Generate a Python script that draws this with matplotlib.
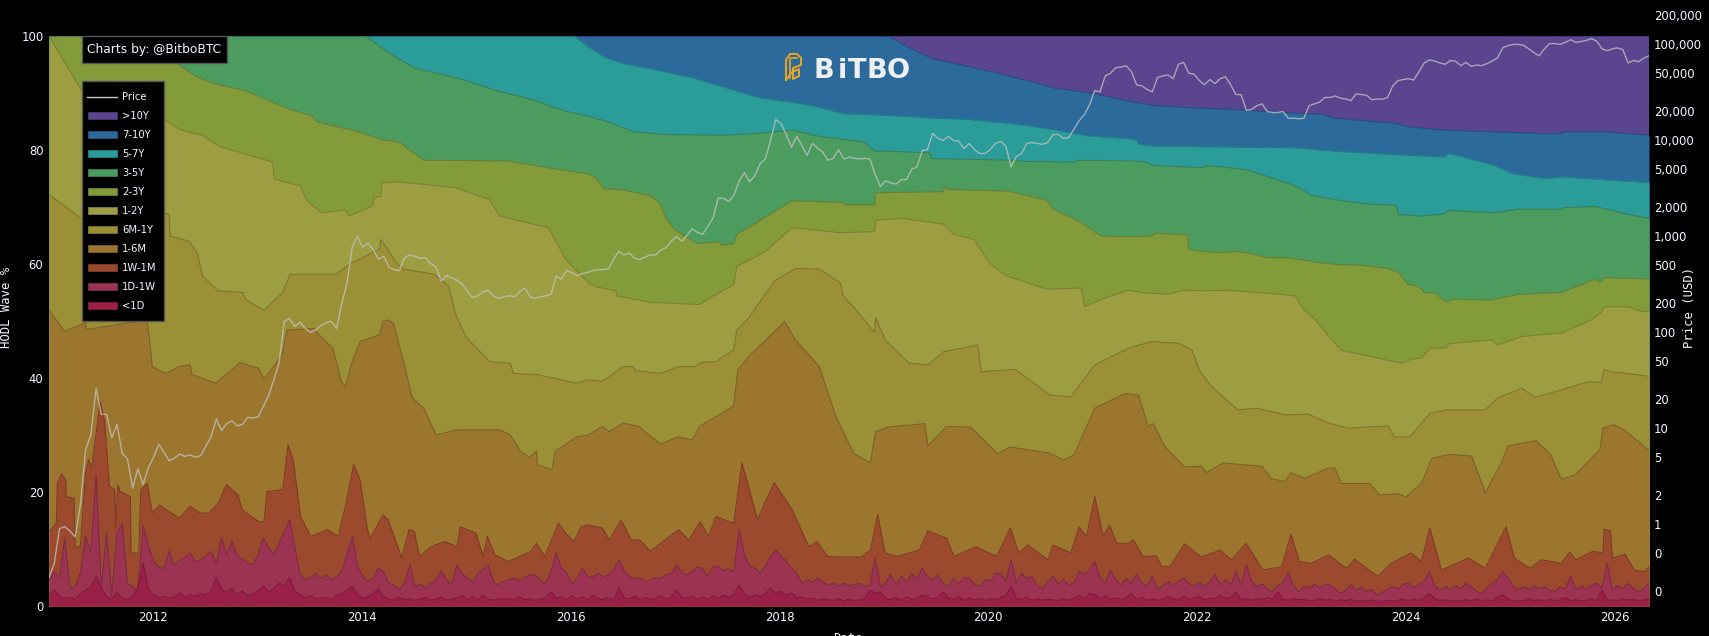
"""HODL waves chart: stacked age bands of the Bitcoin supply with price on a log axis."""

import matplotlib
matplotlib.use("Agg")
import matplotlib.pyplot as plt
import numpy as np
from matplotlib.lines import Line2D
from matplotlib.patches import Rectangle

START_YEAR, END_YEAR = 2011.0, 2026.33

# Upper edge of each cumulative band, in percent of supply, against decimal years
over_10y_years = [2011.0, 2026.33]
over_10y_top = [100, 100]

y7_10_years = [2011.0, 2019.04, 2019.30, 2019.47, 2019.80, 2020.13, 2020.46, 2020.62, 2020.95, 2021.12, 2021.34,
               2021.60, 2021.98, 2022.46, 2023.0, 2023.19, 2023.32, 2023.89, 2024.02, 2024.37, 2024.85, 2025.27,
               2025.49, 2025.51, 2025.91, 2026.33]
y7_10_top = [100, 100, 97.4, 96.0, 94.7, 93.3, 91.8, 90.9, 90.1, 89.5, 88.6,
             87.8, 87.4, 87.0, 86.4, 86.3, 85.6, 84.7, 84.1, 83.5, 83.2, 82.9,
             82.9, 83.2, 83.2, 82.6]

y5_7_years = [2011.0, 2016.03, 2016.17, 2016.33, 2016.50, 2016.83, 2017.16, 2017.49, 2017.82, 2018.15, 2018.31,
              2018.61, 2019.14, 2019.47, 2019.80, 2020.29, 2020.62, 2020.95, 2021.34, 2021.42, 2021.44, 2021.60,
              2021.98, 2022.94, 2023.32, 2023.89, 2024.37, 2024.41, 2024.53, 2024.85, 2025.01, 2025.33, 2025.51,
              2025.97, 2026.33]
y5_7_top = [100, 100, 98.1, 96.2, 95.2, 94.0, 92.7, 90.9, 89.1, 88.3, 87.8,
            86.4, 86.0, 85.6, 85.4, 84.5, 83.6, 82.5, 82.0, 81.8, 81.0, 80.7,
            80.6, 80.4, 79.8, 79.2, 78.8, 79.4, 78.9, 77.3, 75.9, 75.0, 75.3,
            74.7, 74.3]

y3_5_years = [2011.0, 2014.03, 2014.30, 2014.50, 2014.96, 2015.29, 2015.62, 2015.95, 2016.17, 2016.33, 2016.60,
              2016.93, 2017.49, 2017.85, 2018.12, 2018.35, 2018.81, 2018.91, 2019.04, 2019.44, 2019.45, 2020.29,
              2020.30, 2020.84, 2020.85, 2021.34, 2021.50, 2021.58, 2022.07, 2022.09, 2022.46, 2022.78, 2022.94,
              2023.10, 2023.32, 2023.64, 2023.91, 2023.93, 2024.15, 2024.37, 2024.41, 2024.85, 2025.08, 2025.49,
              2025.52, 2025.81, 2026.13, 2026.33]
y3_5_top = [100, 100, 96.5, 94.4, 92.4, 90.4, 88.9, 86.8, 85.9, 85.1, 83.2,
            82.7, 82.6, 83.0, 83.5, 82.5, 81.4, 79.8, 79.8, 79.5, 78.5, 78.2,
            78.0, 77.9, 78.2, 78.1, 77.9, 77.3, 76.9, 77.3, 76.6, 74.7, 73.7,
            72.0, 71.3, 70.5, 70.3, 68.7, 68.4, 68.8, 69.4, 69.0, 69.6, 69.6,
            69.9, 70.1, 68.7, 68.0]

y2_3_years = [2011.0, 2011.92, 2012.22, 2012.39, 2012.55, 2012.88, 2013.31, 2013.52, 2013.57, 2013.97, 2014.17,
              2014.36, 2014.59, 2015.39, 2015.78, 2016.17, 2016.24, 2016.32, 2016.50, 2016.76, 2016.85, 2016.91,
              2016.99, 2017.21, 2017.42, 2017.44, 2017.56, 2017.59, 2017.85, 2018.12, 2018.61, 2018.63, 2018.91,
              2018.92, 2019.57, 2019.58, 2019.60, 2020.19, 2020.56, 2020.62, 2020.85, 2021.08, 2021.34, 2021.56,
              2021.60, 2021.91, 2021.92, 2022.03, 2022.17, 2022.39, 2022.55, 2022.68, 2022.87, 2023.19, 2023.35,
              2023.58, 2023.83, 2023.93, 2024.02, 2024.12, 2024.18, 2024.28, 2024.39, 2024.44, 2024.82, 2025.08,
              2025.49, 2025.81, 2025.87, 2025.90, 2026.33]
y2_3_top = [100, 100, 95.3, 93.1, 91.8, 90.4, 87.1, 86.0, 84.9, 83.2, 81.9,
            81.3, 78.2, 78.1, 76.9, 75.8, 75.1, 73.2, 73.0, 72.0, 70.8, 68.1,
            66.1, 63.6, 63.9, 63.3, 63.6, 65.2, 68.1, 71.1, 70.8, 70.4, 70.4,
            72.5, 72.7, 73.7, 73.1, 72.8, 71.2, 69.6, 67.7, 64.9, 64.8, 64.9,
            65.4, 65.1, 62.5, 62.3, 62.0, 62.2, 61.7, 61.1, 61.1, 60.2, 59.9,
            59.8, 59.2, 58.5, 56.4, 56.1, 55.0, 54.9, 53.3, 53.8, 53.7, 54.7,
            55.0, 57.3, 56.8, 57.6, 57.4]

y1_2_years = [2011.0, 2011.31, 2012.10, 2012.25, 2012.48, 2012.62, 2013.14, 2013.16, 2013.41, 2013.47, 2013.61,
              2013.85, 2013.87, 2014.10, 2014.11, 2014.18, 2014.19, 2014.36, 2014.89, 2015.22, 2015.32, 2015.78,
              2015.88, 2015.95, 2016.17, 2016.24, 2016.43, 2016.44, 2016.76, 2017.23, 2017.42, 2017.56, 2017.59,
              2017.85, 2018.12, 2018.58, 2018.91, 2018.92, 2019.17, 2019.57, 2019.67, 2019.86, 2020.01, 2020.16,
              2020.56, 2020.89, 2020.92, 2021.08, 2021.34, 2021.47, 2021.72, 2021.88, 2022.07, 2022.30, 2022.78,
              2022.94, 2023.03, 2023.13, 2023.22, 2023.38, 2023.58, 2023.96, 2024.05, 2024.15, 2024.23, 2024.39,
              2024.41, 2024.82, 2024.88, 2025.11, 2025.49, 2025.78, 2025.87, 2025.90, 2026.13, 2026.23, 2026.33]
y1_2_top = [100, 90.5, 85.4, 83.6, 82.5, 80.7, 77.9, 74.9, 73.7, 71.1, 69.0,
            69.5, 68.4, 70.2, 71.6, 71.9, 74.3, 74.4, 73.4, 71.3, 68.4, 66.4,
            63.2, 60.8, 56.7, 56.0, 55.3, 54.4, 53.3, 52.9, 55.0, 56.4, 59.6,
            62.0, 66.4, 65.5, 65.7, 67.7, 68.0, 67.0, 65.2, 64.3, 60.2, 58.0,
            55.6, 55.8, 52.5, 53.8, 55.4, 55.0, 54.7, 55.4, 55.3, 55.4, 54.7,
            54.4, 51.8, 50.3, 48.2, 44.9, 44.1, 42.6, 43.3, 43.5, 45.2, 45.3,
            46.0, 46.7, 45.8, 47.3, 47.9, 50.2, 51.5, 52.5, 52.5, 51.8, 51.6]

m6_1y_years = [2011.0, 2011.30, 2012.10, 2012.15, 2012.16, 2012.34, 2012.42, 2012.47, 2012.62, 2012.86, 2012.88,
               2013.06, 2013.24, 2013.31, 2013.75, 2013.90, 2014.17, 2014.18, 2014.33, 2014.40, 2014.69, 2014.83,
               2014.89, 2014.92, 2014.99, 2015.22, 2015.42, 2015.45, 2015.68, 2016.05, 2016.17, 2016.30, 2016.50,
               2016.60, 2016.62, 2016.86, 2017.03, 2017.19, 2017.24, 2017.39, 2017.56, 2017.59, 2017.69, 2017.95,
               2018.15, 2018.38, 2018.58, 2018.61, 2018.74, 2018.91, 2018.92, 2019.01, 2019.14, 2019.24, 2019.42,
               2019.57, 2019.90, 2019.93, 2020.26, 2020.59, 2020.79, 2021.02, 2021.34, 2021.56, 2021.82, 2021.95,
               2022.03, 2022.14, 2022.39, 2022.57, 2022.86, 2023.06, 2023.26, 2023.45, 2023.83, 2023.89, 2024.04,
               2024.23, 2024.39, 2024.76, 2024.88, 2025.11, 2025.24, 2025.49, 2025.76, 2025.87, 2025.90, 2025.97,
               2026.33]
m6_1y_top = [72.2, 68.1, 69.0, 68.7, 64.9, 64.0, 62.0, 57.9, 55.3, 55.0, 53.8,
             51.9, 55.0, 58.2, 58.2, 60.2, 62.6, 64.3, 60.2, 59.1, 58.2, 56.1,
             51.5, 50.2, 47.3, 42.9, 42.6, 40.8, 40.6, 39.1, 39.7, 39.4, 42.0,
             42.0, 41.3, 40.8, 42.0, 42.0, 42.7, 42.9, 44.9, 48.4, 50.2, 57.0,
             59.2, 59.1, 56.7, 54.4, 51.8, 48.0, 50.6, 46.7, 44.4, 42.6, 42.3,
             44.6, 45.8, 41.1, 41.5, 37.0, 36.7, 42.3, 45.2, 46.4, 46.1, 44.9,
             41.1, 38.5, 34.4, 34.7, 33.5, 33.7, 32.1, 31.2, 31.6, 29.6, 29.7,
             33.8, 34.4, 34.4, 36.5, 38.2, 36.6, 37.9, 39.4, 39.2, 41.5, 41.1,
             40.3]

m1_6_years = [2011.0, 2011.15, 2011.35, 2011.36, 2011.94, 2011.99, 2012.12, 2012.25, 2012.35, 2012.37, 2012.60,
              2012.83, 2013.01, 2013.06, 2013.18, 2013.24, 2013.28, 2013.54, 2013.57, 2013.72, 2013.80, 2013.84,
              2013.90, 2013.98, 2014.17, 2014.20, 2014.25, 2014.30, 2014.40, 2014.48, 2014.59, 2014.71, 2014.91,
              2015.32, 2015.42, 2015.52, 2015.60, 2015.67, 2015.68, 2015.82, 2015.85, 2016.06, 2016.17, 2016.30,
              2016.37, 2016.50, 2016.65, 2016.86, 2017.03, 2017.16, 2017.24, 2017.39, 2017.56, 2017.60, 2017.72,
              2017.87, 2018.05, 2018.15, 2018.38, 2018.54, 2018.71, 2018.87, 2018.92, 2019.04, 2019.39, 2019.42,
              2019.60, 2019.83, 2020.09, 2020.21, 2020.59, 2020.72, 2020.82, 2021.02, 2021.31, 2021.34, 2021.44,
              2021.53, 2021.58, 2021.69, 2021.88, 2022.04, 2022.09, 2022.25, 2022.62, 2022.71, 2022.84, 2022.90,
              2023.03, 2023.26, 2023.32, 2023.38, 2023.65, 2023.75, 2023.93, 2024.00, 2024.15, 2024.25, 2024.41,
              2024.63, 2024.74, 2024.76, 2024.92, 2024.98, 2025.25, 2025.39, 2025.49, 2025.62, 2025.86, 2025.89,
              2025.99, 2026.10, 2026.33]
m1_6_top = [51.9, 48.2, 49.7, 48.5, 50.2, 42.0, 40.8, 42.0, 42.3, 40.6, 39.1,
            42.7, 41.7, 39.8, 42.6, 44.4, 48.4, 48.7, 47.9, 45.2, 39.4, 38.5,
            42.6, 46.4, 47.6, 49.9, 50.2, 49.6, 42.6, 36.5, 34.7, 30.0, 30.9,
            30.9, 30.0, 27.1, 26.1, 27.1, 24.8, 23.9, 27.1, 29.7, 30.0, 31.5,
            30.6, 32.1, 31.5, 28.4, 29.7, 29.1, 31.6, 33.2, 35.1, 41.4, 44.1,
            46.7, 49.9, 46.7, 42.0, 33.2, 26.8, 25.1, 30.6, 31.4, 32.0, 28.1,
            31.5, 31.4, 26.7, 27.9, 26.8, 25.6, 26.5, 34.7, 37.3, 37.2, 37.0,
            31.5, 32.0, 28.0, 24.4, 24.5, 23.4, 25.1, 24.5, 22.4, 21.8, 23.4,
            22.4, 24.2, 24.2, 21.5, 21.5, 19.5, 19.7, 19.1, 21.5, 25.9, 26.6,
            26.3, 21.0, 19.8, 25.3, 28.1, 29.0, 26.5, 22.2, 23.0, 27.4, 31.2,
            31.8, 30.8, 27.3]

w1_m1_years = [2011.0, 2011.07, 2011.08, 2011.12, 2011.16, 2011.165, 2011.24, 2011.25, 2011.30, 2011.35, 2011.38,
               2011.41, 2011.49, 2011.53, 2011.58, 2011.63, 2011.64, 2011.66, 2011.68, 2011.78, 2011.785, 2011.86,
               2011.88, 2011.94, 2011.99, 2012.06, 2012.12, 2012.25, 2012.35, 2012.45, 2012.53, 2012.62, 2012.70,
               2012.81, 2012.85, 2013.01, 2013.06, 2013.09, 2013.24, 2013.29, 2013.34, 2013.41, 2013.51, 2013.67,
               2013.77, 2013.84, 2013.92, 2013.98, 2014.05, 2014.08, 2014.20, 2014.25, 2014.38, 2014.45, 2014.50,
               2014.55, 2014.66, 2014.79, 2014.91, 2014.94, 2015.09, 2015.16, 2015.20, 2015.27, 2015.40, 2015.62,
               2015.67, 2015.75, 2015.88, 2015.95, 2016.03, 2016.10, 2016.17, 2016.30, 2016.37, 2016.48, 2016.58,
               2016.66, 2016.76, 2017.03, 2017.13, 2017.24, 2017.32, 2017.39, 2017.56, 2017.64, 2017.79, 2017.87,
               2017.95, 2018.12, 2018.28, 2018.36, 2018.46, 2018.59, 2018.78, 2018.87, 2018.94, 2019.01, 2019.12,
               2019.34, 2019.42, 2019.60, 2019.67, 2019.88, 2020.08, 2020.21, 2020.29, 2020.38, 2020.57, 2020.62,
               2020.79, 2020.87, 2020.94, 2021.02, 2021.10, 2021.16, 2021.23, 2021.34, 2021.39, 2021.48, 2021.61,
               2021.66, 2021.74, 2021.88, 2022.04, 2022.22, 2022.33, 2022.47, 2022.63, 2022.81, 2022.90, 2022.98,
               2023.10, 2023.26, 2023.43, 2023.51, 2023.73, 2023.86, 2024.05, 2024.15, 2024.23, 2024.34, 2024.60,
               2024.76, 2024.96, 2025.04, 2025.19, 2025.30, 2025.49, 2025.57, 2025.63, 2025.79, 2025.89, 2025.90,
               2025.96, 2025.98, 2026.10, 2026.19, 2026.29, 2026.33]
w1_m1_top = [13.1, 14.5, 21.5, 23.2, 22.1, 19.2, 18.9, 10.4, 10.4, 23.3, 25.6,
             24.2, 35.9, 32.7, 21.0, 20.4, 13.7, 21.3, 20.1, 19.2, 9.3, 9.3,
             20.4, 21.5, 16.3, 17.7, 16.9, 15.4, 17.5, 16.3, 16.3, 18.0, 21.3,
             19.5, 16.9, 14.8, 14.8, 20.1, 20.4, 28.3, 25.6, 15.7, 12.2, 13.4,
             12.2, 17.5, 24.8, 22.1, 13.4, 11.9, 16.0, 15.1, 8.4, 13.4, 13.1,
             8.7, 10.4, 11.3, 10.4, 13.9, 12.8, 8.7, 12.2, 9.0, 7.8, 9.6,
             11.0, 8.7, 14.5, 12.8, 11.3, 13.9, 14.2, 13.7, 11.6, 15.1, 11.6,
             11.6, 9.6, 13.4, 11.6, 14.8, 12.2, 15.7, 14.5, 25.1, 15.1, 18.6,
             21.6, 16.9, 10.4, 11.3, 8.7, 8.6, 8.6, 9.8, 16.0, 9.3, 8.7,
             9.8, 13.2, 11.9, 8.7, 10.4, 8.7, 13.7, 9.3, 10.7, 8.1, 10.7,
             9.3, 13.9, 12.2, 19.2, 12.2, 14.2, 11.0, 11.0, 11.6, 8.7, 8.8,
             7.0, 6.9, 10.9, 8.6, 9.8, 8.1, 11.0, 6.3, 6.9, 12.5, 7.8,
             7.5, 9.0, 6.6, 8.2, 5.2, 7.5, 9.3, 7.8, 13.7, 6.3, 8.4,
             6.6, 13.9, 8.4, 6.6, 8.1, 7.5, 9.4, 8.1, 9.6, 9.3, 13.5,
             13.2, 8.4, 9.1, 6.3, 6.0, 6.9]

# The two youngest bands and the price are read at twenty points per year
d1_w1_top = [4.6, 6.0, 5.0, 11.9, 3.2, 3.4, 5.8, 12.2, 9.3, 23.0, 3.0, 12.8, 1.7, 12.8, 14.5, 4.0, 3.4, 2.8, 14.2, 10.5,
             8.0, 6.8, 6.6, 9.6, 7.2, 8.0, 8.6, 9.3, 7.8, 8.1, 8.8, 9.6, 7.5, 11.9, 9.0, 11.3, 8.9, 8.2, 7.6, 7.2,
             9.0, 11.9, 10.2, 9.0, 11.0, 13.0, 15.1, 10.4, 5.6, 4.6, 5.0, 5.7, 4.9, 5.4, 4.7, 5.0, 6.2, 9.0, 12.2, 7.0,
             5.2, 4.3, 5.0, 6.6, 6.0, 4.0, 3.7, 2.9, 4.0, 7.2, 3.4, 3.8, 3.2, 4.0, 4.6, 6.2, 4.6, 3.7, 7.2, 5.6,
             5.0, 4.2, 5.6, 6.4, 7.2, 4.2, 3.7, 4.3, 4.6, 4.9, 4.5, 5.0, 5.4, 5.5, 4.4, 4.0, 6.0, 9.3, 6.6, 5.8,
             4.0, 4.8, 6.6, 5.2, 5.0, 5.8, 5.1, 5.5, 6.4, 8.1, 6.2, 5.2, 4.7, 5.0, 4.3, 4.6, 5.0, 4.8, 5.5, 5.7,
             7.2, 5.9, 5.5, 6.0, 6.8, 6.6, 5.2, 6.8, 7.0, 6.2, 6.5, 6.0, 13.4, 9.0, 7.0, 6.6, 5.8, 7.0, 8.7, 9.8,
             8.8, 7.8, 6.6, 5.8, 4.0, 4.6, 4.2, 4.9, 4.2, 3.7, 4.0, 3.5, 4.0, 3.6, 3.7, 4.0, 3.4, 3.7, 8.4, 3.4,
             4.0, 5.5, 3.6, 5.2, 4.2, 5.6, 4.8, 6.6, 5.2, 4.6, 5.4, 4.0, 3.4, 4.8, 3.8, 5.0, 4.9, 3.8, 3.4, 4.6,
             4.4, 5.8, 5.6, 4.4, 8.1, 4.0, 5.8, 4.8, 5.2, 3.6, 3.1, 4.2, 5.2, 3.9, 4.6, 3.7, 4.0, 6.0, 5.6, 6.4,
             7.8, 5.0, 4.0, 6.3, 4.6, 3.7, 4.8, 4.0, 5.6, 4.0, 3.6, 5.2, 2.8, 3.6, 4.3, 3.7, 4.3, 4.9, 4.0, 3.5,
             4.2, 3.4, 4.2, 5.5, 3.7, 4.6, 3.7, 6.0, 3.7, 7.2, 4.4, 3.4, 3.9, 3.0, 2.5, 3.6, 4.0, 6.0, 3.6, 2.5,
             3.5, 3.1, 3.8, 3.2, 3.7, 3.7, 3.0, 2.2, 2.8, 3.7, 2.7, 3.3, 2.5, 3.0, 1.9, 2.4, 2.9, 3.4, 3.0, 3.8,
             4.0, 3.2, 3.8, 4.3, 6.0, 3.6, 2.8, 3.4, 2.9, 3.6, 3.0, 4.0, 3.4, 2.6, 2.2, 3.2, 4.0, 4.6, 6.0, 5.0,
             3.4, 2.8, 3.4, 2.9, 3.5, 3.0, 3.4, 2.8, 2.5, 3.4, 3.0, 5.2, 2.8, 3.5, 3.0, 3.6, 4.0, 3.2, 7.5, 2.8,
             3.6, 3.0, 4.0, 3.1, 2.5, 3.0, 4.0]

d1_top = [1.9, 2.8, 1.7, 1.3, 1.5, 1.2, 2.2, 2.8, 3.4, 5.2, 3.2, 1.7, 1.2, 2.4, 1.4, 1.1, 1.6, 3.4, 7.5, 3.0,
          1.9, 1.5, 1.7, 1.3, 1.6, 2.3, 1.5, 2.0, 1.7, 2.2, 1.9, 2.7, 5.0, 2.9, 2.4, 3.0, 2.0, 2.6, 1.8, 2.2,
          2.6, 3.5, 2.4, 3.0, 4.0, 3.6, 5.0, 2.6, 2.0, 1.5, 1.8, 1.3, 1.4, 1.5, 1.2, 1.9, 2.2, 2.7, 3.4, 2.0,
          1.3, 1.6, 2.2, 3.0, 1.6, 1.2, 1.0, 1.5, 1.1, 1.3, 1.0, 1.2, 1.5, 1.0, 1.2, 1.6, 1.0, 1.2, 1.4, 1.9,
          1.1, 1.6, 1.0, 1.9, 1.2, 1.0, 1.3, 1.1, 1.4, 1.0, 1.6, 1.1, 1.3, 1.0, 1.2, 1.5, 2.5, 1.4, 1.6, 1.1,
          1.8, 1.2, 1.6, 1.1, 1.9, 1.3, 1.1, 1.6, 1.0, 3.2, 1.5, 1.2, 1.7, 1.1, 1.5, 1.1, 1.4, 1.8, 1.2, 1.6,
          2.8, 1.6, 1.3, 1.7, 1.2, 1.6, 1.2, 1.8, 1.4, 1.9, 1.5, 2.0, 3.7, 2.1, 1.5, 2.0, 1.6, 2.2, 3.1, 2.2,
          2.6, 1.9, 2.3, 1.4, 1.6, 1.2, 1.4, 1.0, 1.3, 1.1, 1.0, 1.3, 0.9, 1.2, 0.9, 1.1, 1.3, 2.8, 2.2, 2.5,
          1.4, 1.1, 1.5, 1.0, 1.6, 1.2, 1.3, 1.9, 1.6, 1.2, 1.5, 2.5, 1.4, 1.2, 1.7, 1.0, 1.4, 1.1, 1.3, 1.0,
          1.3, 1.1, 1.5, 1.8, 3.4, 1.4, 1.1, 1.6, 1.0, 1.3, 1.0, 1.2, 1.1, 0.9, 1.3, 1.0, 1.4, 1.9, 1.2, 2.2,
          2.0, 1.4, 1.7, 1.2, 1.4, 1.1, 1.4, 2.2, 1.1, 1.5, 1.0, 1.3, 1.0, 1.2, 1.7, 1.3, 1.0, 1.8, 1.2, 1.4,
          1.6, 1.1, 1.4, 1.2, 1.9, 1.3, 1.5, 2.5, 1.1, 1.4, 1.0, 1.3, 1.1, 1.5, 1.2, 2.5, 1.2, 1.0, 1.3, 1.1,
          1.2, 0.9, 1.0, 1.3, 1.0, 1.2, 0.8, 1.1, 0.9, 1.2, 0.8, 1.0, 0.8, 1.1, 0.8, 0.9, 1.0, 0.8, 1.0, 1.2,
          0.9, 1.2, 1.0, 1.5, 2.2, 1.3, 0.9, 1.1, 0.8, 1.0, 0.8, 1.1, 0.9, 1.3, 0.8, 1.1, 0.9, 1.6, 1.9, 1.3,
          0.8, 1.0, 0.9, 1.3, 0.9, 1.1, 0.8, 1.2, 0.9, 1.1, 1.5, 0.9, 1.1, 0.9, 1.0, 1.3, 0.9, 2.8, 1.0, 1.1,
          0.9, 1.3, 1.0, 1.2, 0.9, 1.1, 1.3]

# BTC price in USD
price_usd = [0.28, 0.39, 0.9, 0.95, 0.85, 0.74, 1.6, 6, 8.5, 26, 14, 14, 8, 11, 5.5, 4.8, 2.4, 3.8, 2.6, 3.9,
             5, 6.8, 5.6, 4.6, 4.9, 5.4, 5.1, 5.3, 5, 5.2, 6.5, 8.2, 12.5, 9.5, 11.2, 12, 10.6, 11, 13, 12.8,
             13.2, 17, 22, 32, 48, 130, 140, 115, 128, 110, 100, 106, 118, 126, 130, 110, 200, 330, 780, 1000,
             770, 850, 730, 580, 620, 480, 450, 440, 600, 640, 620, 590, 600, 520, 480, 340, 390, 370, 350, 320,
             270, 230, 240, 265, 275, 240, 225, 235, 240, 235, 265, 290, 235, 225, 235, 240, 250, 385, 360, 440,
             420, 390, 410, 420, 440, 450, 450, 460, 580, 700, 640, 670, 590, 575, 610, 640, 640, 720, 760, 890,
             1000, 890, 1020, 1200, 1100, 1050, 1270, 1550, 2500, 2500, 2300, 2700, 3800, 4600, 3700, 4300, 5700,
             6400, 10000, 16500,
             15000, 11500, 8500, 11000, 8800, 7000, 9300, 8300, 7500, 6200, 6500, 8000, 6400, 6700, 6500, 6400,
             6500, 6400, 4400, 3300,
             3800, 3600, 3500, 3900, 3900, 5000, 5300, 7800, 8000, 11800, 10500, 10000, 11000, 10000, 9800, 8200,
             9300, 8000, 7300, 7300,
             8000, 9300, 9800, 8700, 5300, 6800, 7300, 9300, 9500, 9300, 9100, 9500, 11500, 11500, 10500, 10700,
             13000, 16000, 18500, 23500,
             33000, 32000, 47000, 50000, 57000, 58000, 60000, 52000, 38000, 37000, 34000, 32000, 45000, 47000,
             48000, 44000, 62000, 65000, 50000, 49000,
             42000, 38000, 43000, 39000, 44000, 46000, 38000, 30000, 30000, 20500, 21000, 23000, 24000, 20000,
             19500, 19500, 20000, 17000, 17000, 16800,
             17000, 23000, 24000, 25000, 28000, 28000, 29000, 27500, 27000, 26000, 30500, 30000, 29500, 26500,
             27000, 26800, 28000, 37000, 42000, 43000,
             44000, 42500, 52000, 64000, 69000, 67000, 64000, 62000, 68000, 67000, 60000, 65000, 59000, 61000,
             60000, 63000, 67000, 72000, 92000, 97000,
             100000, 100000, 98000, 90000, 82000, 76000, 90000, 102000, 102000, 100000, 105000, 112000, 105000,
             107000, 110000, 115000, 108000, 90000, 86000, 90000,
             92000, 88000, 64000, 68000, 66000, 72000, 76000]

band_labels = [">10Y", "7-10Y", "5-7Y", "3-5Y", "2-3Y", "1-2Y", "6M-1Y", "1-6M", "1W-1M", "1D-1W", "<1D"]
band_colors = ["#5b458f", "#2b6a9a", "#2a9c99", "#4c9c5f", "#839b3b", "#9c9e41",
               "#9c9036", "#9c762f", "#9c4a2d", "#9c3353", "#9b2048"]
edge_colors = ["#3f3a7a", "#274f80", "#257f88", "#3f7f55", "#6a8035", "#7e8035",
               "#7e7430", "#7e5f2a", "#7e3c28", "#7e2a48", "#7e1a3c"]
band_years = [over_10y_years, y7_10_years, y5_7_years, y3_5_years, y2_3_years, y1_2_years,
              m6_1y_years, m1_6_years, w1_m1_years,
              np.linspace(START_YEAR, END_YEAR, len(d1_w1_top)), np.linspace(START_YEAR, END_YEAR, len(d1_top))]
band_tops = [over_10y_top, y7_10_top, y5_7_top, y3_5_top, y2_3_top, y1_2_top,
             m6_1y_top, m1_6_top, w1_m1_top, d1_w1_top, d1_top]
price_years = np.linspace(START_YEAR, END_YEAR, len(price_usd))

year_ticks = list(range(2012, 2028, 2))
wave_ticks = [0, 20, 40, 60, 80, 100]
price_ticks = [0.2, 0.5, 1, 2, 5, 10, 20, 50, 100, 200, 500, 1000, 2000, 5000, 10000,
               20000, 50000, 100000, 200000]
price_tick_labels = ["0", "0", "1", "2", "5", "10", "20", "50", "100", "200", "500", "1,000", "2,000", "5,000",
                     "10,000", "20,000", "50,000", "100,000", "200,000"]

WIDTH, HEIGHT = 1709, 636
LEFT, RIGHT, TOP, BOTTOM = 49, 1649, 36, 606
TEXT = "#f2f6ff"


def fx(px):
    return px / WIDTH


def fy(py):
    return 1 - py / HEIGHT


def main() -> None:
    fig = plt.figure(figsize=(WIDTH / 100, HEIGHT / 100), dpi=100, facecolor="black")
    ax = fig.add_axes([fx(LEFT), fy(BOTTOM), fx(RIGHT - LEFT), (BOTTOM - TOP) / HEIGHT], facecolor="black")

    # Oldest coins first, each younger band is painted over the one before it
    for years, tops, color, edge in zip(band_years, band_tops, band_colors, edge_colors):
        ax.fill_between(years, 0, tops, color=color, linewidth=0)
        ax.plot(years, tops, color=edge, linewidth=0.8)

    ax.set_xlim(START_YEAR, END_YEAR)
    ax.set_ylim(0, 100)
    ax.set_xticks(year_ticks)
    ax.set_yticks(wave_ticks)
    ax.tick_params(axis="both", length=0, colors=TEXT, labelsize=8.4)
    ax.tick_params(axis="x", pad=3.5)
    ax.tick_params(axis="y", pad=4)
    for spine in ax.spines.values():
        spine.set_visible(False)

    # The price axis runs higher than the plot, so its top tick sits in the margin
    price_ax = fig.add_axes([fx(LEFT), fy(BOTTOM), fx(RIGHT - LEFT), BOTTOM / HEIGHT], facecolor="none")
    price_ax.plot(price_years, price_usd, color="#c4c4c4", alpha=0.75, linewidth=1.0)
    price_ax.set_yscale("log")
    price_ax.set_xlim(START_YEAR, END_YEAR)
    price_ax.set_ylim(0.141, 290000)
    price_ax.set_xticks([])
    price_ax.yaxis.tick_right()
    price_ax.set_yticks(price_ticks)
    price_ax.set_yticklabels(price_tick_labels)
    price_ax.minorticks_off()
    price_ax.tick_params(axis="y", length=0, colors=TEXT, labelsize=8.4, pad=3.6)
    for spine in price_ax.spines.values():
        spine.set_visible(False)

    fig.text(fx(7), fy(307), "HODL Wave %", rotation=90, color=TEXT, family="DejaVu Sans Mono",
             fontsize=8.8, ha="center", va="center")
    fig.text(fx(1690), fy(307), "Price (USD)", rotation=90, color=TEXT, family="DejaVu Sans Mono",
             fontsize=8.8, ha="center", va="center")
    fig.text(fx(848), fy(632), "Date", color=TEXT, family="DejaVu Sans Mono", fontsize=8.8, ha="center", va="top")

    # Credit box
    fig.add_artist(Rectangle((fx(81.5), fy(62.5)), fx(146), 26.5 / HEIGHT, transform=fig.transFigure,
                             facecolor="black", edgecolor="#555555", linewidth=1))
    fig.text(fx(87), fy(49.5), "Charts by: @BitboBTC", color=TEXT, fontsize=8.8, ha="left", va="center")

    # Legend box
    fig.add_artist(Rectangle((fx(81.5), fy(320.5)), fx(82), 239 / HEIGHT, transform=fig.transFigure,
                             facecolor="black", edgecolor="#555555", linewidth=1))
    fig.add_artist(Line2D([fx(87), fx(117)], [fy(96.5), fy(96.5)], transform=fig.transFigure,
                          color="#c4c4c4", linewidth=1))
    fig.text(fx(122), fy(96.5), "Price", color=TEXT, fontsize=7.2, ha="left", va="center")
    for i, (label, color, edge) in enumerate(zip(band_labels, band_colors, edge_colors)):
        row_y = 115.6 + 19 * i
        fig.add_artist(Rectangle((fx(87.5), fy(row_y + 3)), fx(29.5), 6.5 / HEIGHT, transform=fig.transFigure,
                                 facecolor=color, edgecolor=edge, linewidth=0.6))
        fig.text(fx(122), fy(row_y), label, color=TEXT, fontsize=7.2, ha="left", va="center")

    # Brand mark: leaf outline in orange next to the spaced-out wordmark
    icon_x = [786, 786, 790, 797, 801, 801, 793, 793, 799, 799, 792, 786]
    icon_y = [80, 60, 54, 54, 58, 65, 68, 79, 76, 69, 72, 80]
    fig.add_artist(Line2D([fx(x) for x in icon_x], [fy(y) for y in icon_y], transform=fig.transFigure,
                          color="#eda51f", linewidth=1.4))
    fig.add_artist(Line2D([fx(x) for x in [790, 790, 797]], [fy(y) for y in [78, 58, 58]],
                          transform=fig.transFigure, color="#eda51f", linewidth=1.2))
    for letter, letter_x in zip("BiTBO", [813, 838, 848, 867, 887]):
        fig.text(fx(letter_x), fy(78.3), letter, color="#eef0f2", fontsize=19.5, fontweight="bold",
                 family="DejaVu Sans", ha="left", va="baseline")

    fig.savefig("out.png", dpi=100, facecolor="black")


if __name__ == "__main__":
    main()
